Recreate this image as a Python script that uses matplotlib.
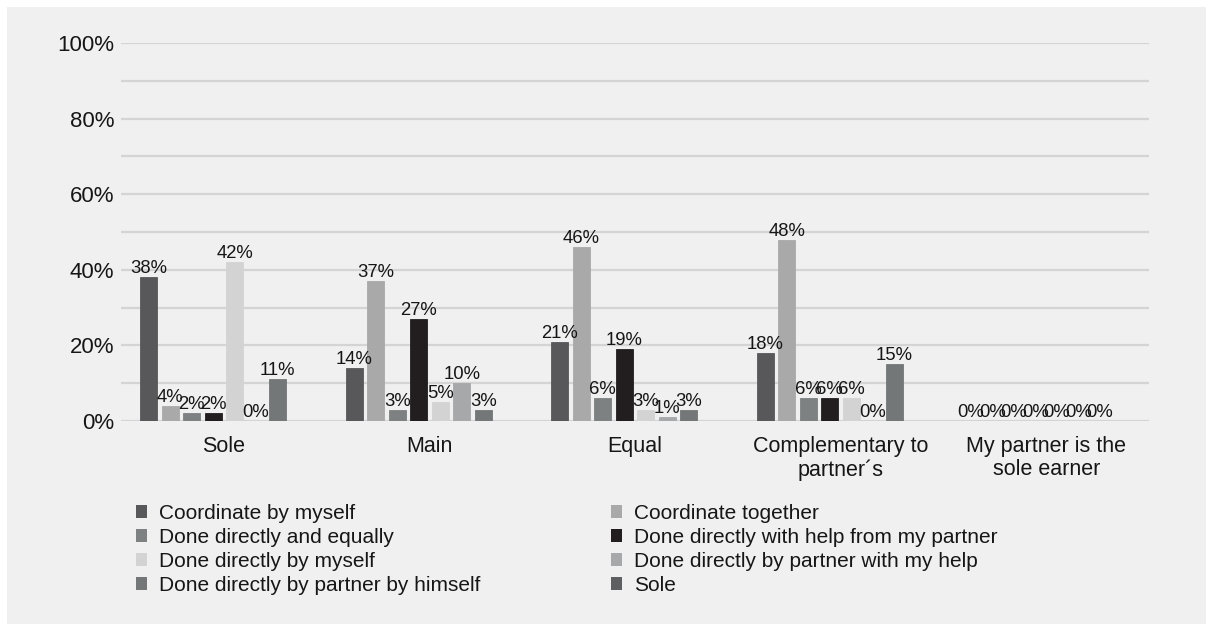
import matplotlib
matplotlib.use("Agg")
import matplotlib.pyplot as plt
from matplotlib.patches import Rectangle, Patch
import numpy as np

plt.rcParams['font.family'] = ['Liberation Sans', 'DejaVu Sans']

categories = ["Sole", "Main", "Equal", "Complementary to\npartner´s",
              "My partner is the\nsole earner"]

series_names = [
    "Coordinate by myself",
    "Coordinate together",
    "Done directly and equally",
    "Done directly with help from my partner",
    "Done directly by myself",
    "Done directly by partner with my help",
    "Done directly by partner by himself",
    "Sole",
]

coordinate_by_myself = [38, 14, 21, 18, 0]
coordinate_together = [4, 37, 46, 48, 0]
done_directly_equally = [2, 3, 6, 6, 0]
done_with_partner_help = [2, 27, 19, 6, 0]
done_by_myself = [42, 5, 3, 6, 0]
partner_with_my_help = [0, 10, 1, 0, 0]
partner_by_himself = [11, 3, 3, 15, 0]
sole = [None, None, None, None, None]

series_values = [coordinate_by_myself, coordinate_together, done_directly_equally,
                 done_with_partner_help, done_by_myself, partner_with_my_help,
                 partner_by_himself, sole]

colors = ["#58585a", "#a9a9a9", "#7d8182", "#221e20",
          "#d3d3d3", "#a6a8aa", "#747778", "#5e5f61"]

y_ticks = [0, 20, 40, 60, 80, 100]
y_tick_labels = ["0%", "20%", "40%", "60%", "80%", "100%"]

W, H = 1206, 624
fig = plt.figure(figsize=(W / 100, H / 100), dpi=100)
fig.patch.set_facecolor("white")
# grey panel behind the chart
fig.patches.append(Rectangle((7 / W, 0), 1 - 7 / W, 1 - 7 / H,
                             transform=fig.transFigure, facecolor="#f0f0f0",
                             edgecolor="none", zorder=-10))

ax = fig.add_axes([121 / W, 1 - 421 / H, (1149 - 121) / W, (421 - 43) / H])
ax.set_facecolor("none")
ax.set_zorder(1)

n_series = len(series_names)
x = np.arange(len(categories))
slot = 0.1046
bar_w = 0.0827

for i, (name, vals, col) in enumerate(zip(series_names, series_values, colors)):
    offs = (i - (n_series - 1) / 2) * slot
    valid = [(xi, v) for xi, v in zip(x, vals) if v is not None]
    if not valid:
        continue
    xs = [xi + offs for xi, _ in valid]
    vs = [v for _, v in valid]
    bars = ax.bar(xs, vs, width=bar_w, color=col, edgecolor=col, linewidth=0.6,
                  zorder=3)
    ax.bar_label(bars, labels=[f"{v}%" for v in vs], padding=0, fontsize=13.3,
                 color="#161616", zorder=4)

ax.set_xlim(-0.5, len(categories) - 0.5)
ax.set_ylim(0, 100)
ax.set_yticks(y_ticks)
ax.set_yticklabels(y_tick_labels)
ax.set_yticks(np.arange(0, 101, 10), minor=True)
ax.grid(axis="y", which="both", color="#d4d4d4", linewidth=1.6, zorder=1)
ax.set_axisbelow(True)
ax.set_xticks(x)
ax.set_xticklabels(categories, linespacing=1.12)
ax.tick_params(axis="both", which="both", length=0)
ax.tick_params(axis="y", labelsize=16, pad=5, colors="#161616")
ax.tick_params(axis="x", labelsize=15.5, pad=11, colors="#161616")
for s in ax.spines.values():
    s.set_visible(False)

handles = [Patch(facecolor=c, edgecolor="none") for c in colors]
left_idx = [0, 2, 4, 6]
right_idx = [1, 3, 5, 7]
common = dict(frameon=False, fontsize=15, handlelength=0.55, handleheight=0.55,
              handletextpad=0.55, labelspacing=0.24, borderpad=0, borderaxespad=0,
              loc="upper left")
leg1 = fig.legend([handles[i] for i in left_idx], [series_names[i] for i in left_idx],
                  bbox_to_anchor=(136 / W, 1 - 504 / H), **common)
leg2 = fig.legend([handles[i] for i in right_idx], [series_names[i] for i in right_idx],
                  bbox_to_anchor=(611 / W, 1 - 504 / H), **common)
for leg in (leg1, leg2):
    for t in leg.get_texts():
        t.set_color("#161616")

fig.savefig("out.png", dpi=100, facecolor=fig.get_facecolor())
